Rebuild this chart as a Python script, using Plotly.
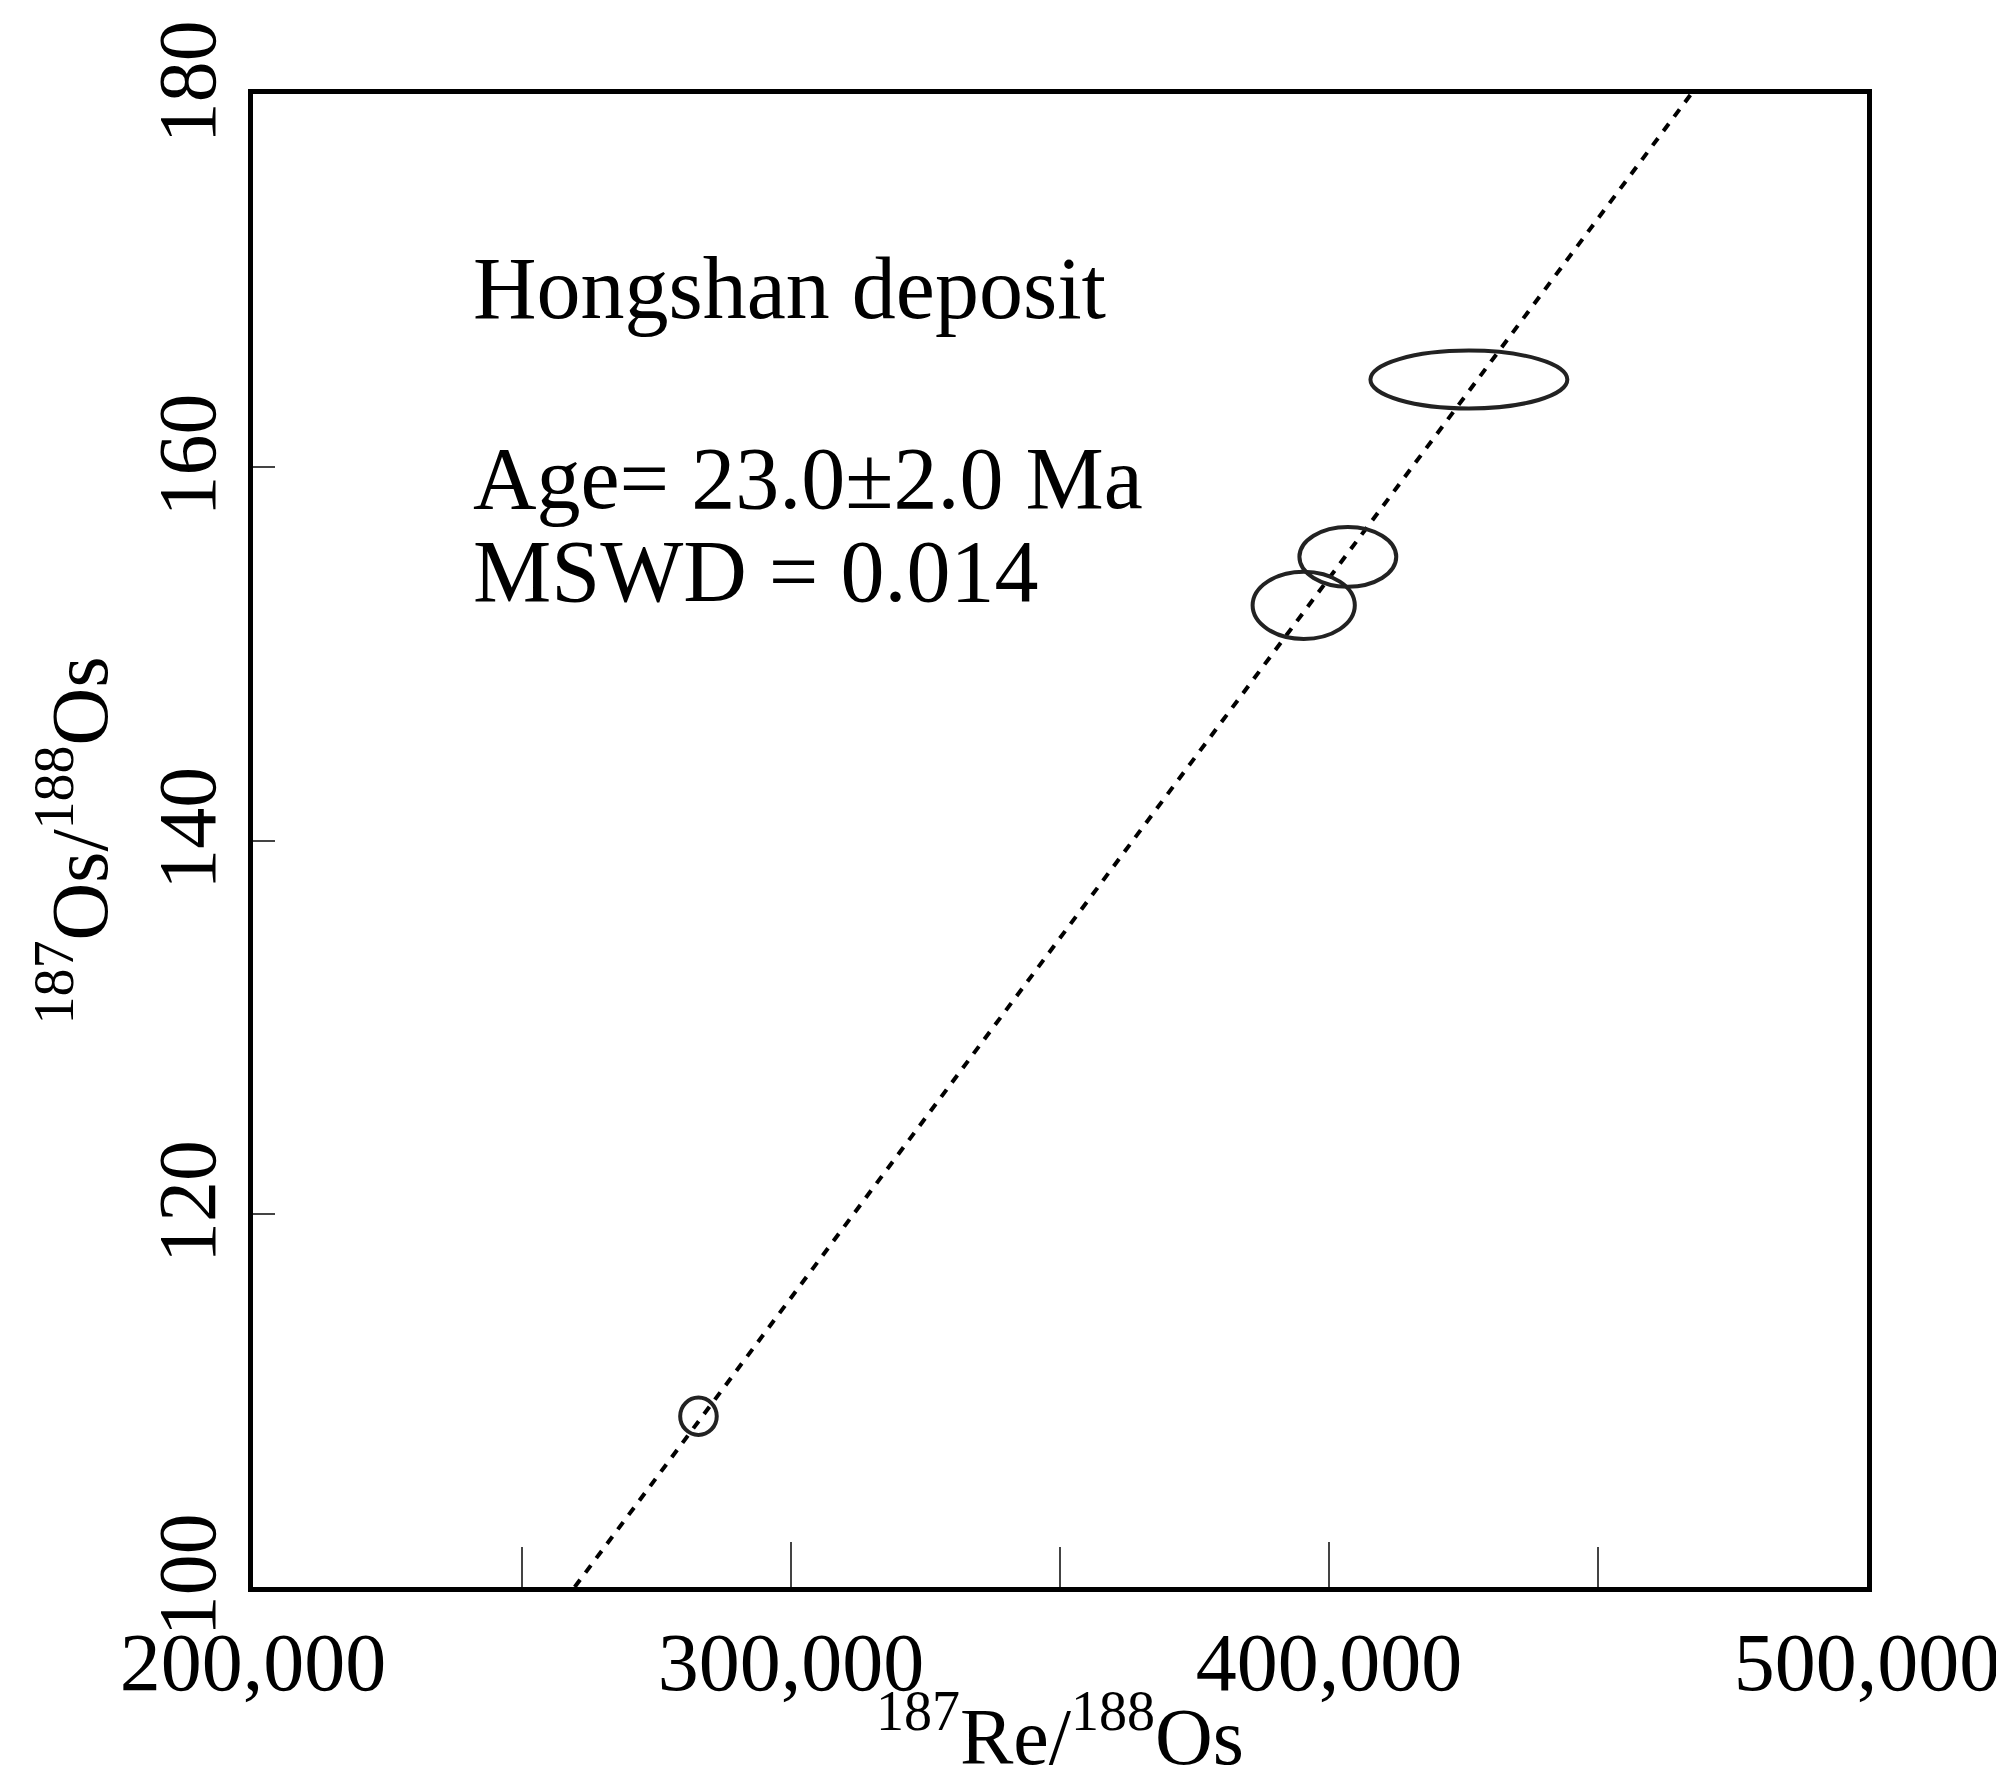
import plotly.graph_objects as go

# Data
cx = [282800, 395300, 403500, 426000]
cy = [109.15, 152.6, 155.2, 164.7]
rx = [3400, 9500, 9000, 18300]
ry = [1.0, 1.8, 1.6, 1.55]
line_x = [259800, 467300]
line_y = [100, 180]
x_ticks = [200000, 300000, 400000, 500000]
x_tick_labels = ["200,000", "300,000", "400,000", "500,000"]
y_ticks = [100, 120, 140, 160, 180]

fig = go.Figure()
fig.add_trace(go.Scatter(x=line_x, y=line_y, mode="lines",
                         line=dict(color="black", width=4, dash="9px,9px"),
                         hoverinfo="skip", showlegend=False))
for x, y, a, b in zip(cx, cy, rx, ry):
    fig.add_shape(type="circle", xref="x", yref="y", x0=x-a, x1=x+a, y0=y-b, y1=y+b,
                  line=dict(color="#222", width=4))

font = "Liberation Serif"
fig.update_layout(
    width=2004, height=1773, paper_bgcolor="white", plot_bgcolor="white",
    margin=dict(l=245, r=46, t=28, b=192),
    font=dict(family=font, color="black"),
    xaxis=dict(range=[200000, 500000], showgrid=False, zeroline=False,
               tickvals=x_ticks, ticktext=x_tick_labels, tickfont=dict(size=82),
               ticklabeloverflow="allow",
               showline=True, linewidth=5, linecolor="black", mirror=True,
               ticks="inside", ticklen=45, tickwidth=2,
               minor=dict(ticks="inside", ticklen=40, tickwidth=2, dtick=50000, tick0=250000),
               title=dict(text="<sup>187</sup>Re/<sup>188</sup>Os", font=dict(size=80), standoff=5)),
    yaxis=dict(range=[100, 180], showgrid=False, zeroline=False,
               tickvals=y_ticks, tickfont=dict(size=82), tickangle=-90,
               ticklabeloverflow="allow",
               showline=True, linewidth=5, linecolor="black", mirror=True,
               ticks="inside", ticklen=22, tickwidth=2,
               title=dict(text="<sup>187</sup>Os/<sup>188</sup>Os", font=dict(size=80), standoff=10)),
)
for txt, yy in [("Hongshan deposit", 169.6), ("Age= 23.0±2.0 Ma", 159.4), ("MSWD = 0.014", 154.4)]:
    fig.add_annotation(x=0.135, xref="paper", y=yy, yref="y", text=txt, showarrow=False,
                       xanchor="left", yanchor="middle", font=dict(size=88, family=font))
fig.write_html("out.html")
